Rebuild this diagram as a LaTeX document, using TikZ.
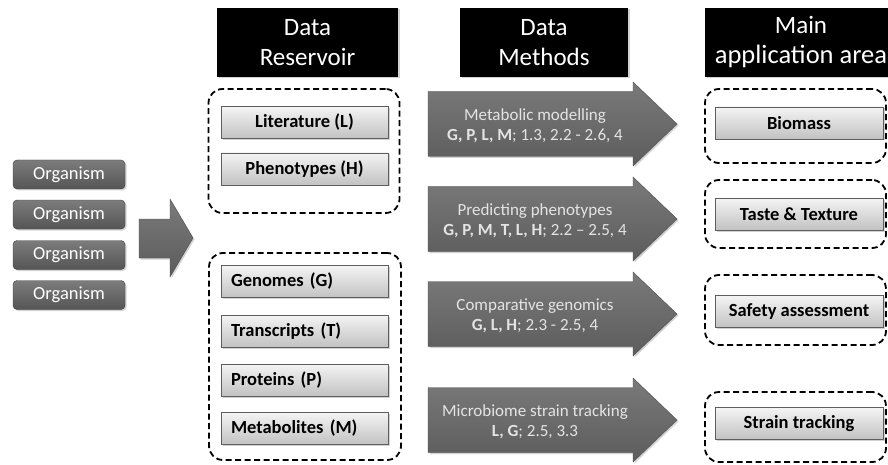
\documentclass[tikz,border=0pt]{standalone}
\usepackage{fontspec}
\setmainfont{Carlito}
\usetikzlibrary{shadows}
\definecolor{orgtop}{HTML}{7C7C7C}
\definecolor{orgbot}{HTML}{555555}
\definecolor{boxtop}{HTML}{F4F4F4}
\definecolor{boxbot}{HTML}{C2C2C2}
\definecolor{boxedge}{HTML}{5E5E5E}
\definecolor{arrtop}{HTML}{7A7A7A}
\definecolor{arrbot}{HTML}{5C5C5C}
\definecolor{arrtext}{HTML}{E4E4E4}
\tikzset{
  shad/.style={drop shadow={opacity=0.35, shadow xshift=1.5pt, shadow yshift=-1.5pt}},
  hdr/.style={fill=black, text=white, align=center, inner sep=0pt,
    font=\fontsize{25}{30}\selectfont, minimum width=#1, minimum height=69pt, shad},
  orgbox/.style={rounded corners=4pt, top color=orgtop, bottom color=orgbot, draw=orgbot!80!black,
    line width=0.4pt, text=white, font=\fontsize{18.5}{20}\selectfont, minimum width=112pt,
    minimum height=29pt, inner sep=0pt, shad},
  databox/.style={top color=boxtop, bottom color=boxbot, draw=boxedge, line width=0.6pt,
    font=\bfseries\fontsize{18.5}{21}\selectfont, minimum width=167pt, minimum height=32pt,
    inner sep=0pt, shad},
  leftbox/.style={databox, text width=147pt, align=left},
  dbox/.style={draw=black, dashed, dash pattern=on 6pt off 3.5pt, line width=1.8pt,
    rounded corners=14pt, inner sep=0pt},
  arrshape/.style={top color=arrtop, bottom color=arrbot, draw=arrbot!85!black, line width=0.4pt, shad},
  arrlabel/.style={text=arrtext, align=center, font=\fontsize{17}{20}\selectfont, inner sep=0pt},
}
\newcommand{\methodarrow}[1]{%
  \path[arrshape] (428,{-#1+32.5}) -- (633,{-#1+32.5}) -- (633,{-#1+42}) -- (677,{-#1})
    -- (633,{-#1-42}) -- (633,{-#1-32.5}) -- (428,{-#1-32.5}) -- cycle;}
\begin{document}
\begin{tikzpicture}[x=1pt,y=1pt]
\useasboundingbox[fill=white] (0,0) rectangle (888,-465);

% headers
\node[hdr=181pt] (hres) at (307.5,-42.5) {Data\\Reservoir};
\node[hdr=168pt] (hmet) at (544,-42.5) {Data\\Methods};
\node[hdr=183pt] (happ) at (796.5,-42.5) {};
\node[text=white, align=center, inner sep=0pt, font=\fontsize{25}{30}\selectfont] (happt) at (801,-42.5)
  {Main\\{\fontsize{26.5}{30}\selectfont application area}};

% organisms
\node[orgbox] (o1) at (69,-174.5) {Organism};
\node[orgbox] (o2) at (69,-214.5) {Organism};
\node[orgbox] (o3) at (69,-255) {Organism};
\node[orgbox] (o4) at (69,-295) {Organism};

% left big arrow
\path[arrshape] (139,-219) -- (170,-219) -- (170,-199) -- (193,-238) -- (170,-277)
  -- (170,-258) -- (139,-258) -- cycle;

% data reservoir
\node[dbox, minimum width=191pt, minimum height=124pt] (dtop) at (304,-151) {};
\node[databox] (lit) at (304.5,-122.5) {Literature (L)};
\node[databox] (phe) at (304.5,-169) {Phenotypes (H)};

\node[dbox, minimum width=192pt, minimum height=207pt] (dbot) at (305,-356.5) {};
\node[leftbox] (gen) at (304.5,-281.5) {Genomes (G)};
\node[leftbox] (tra) at (304.5,-331) {Transcripts (T)};
\node[leftbox] (pro) at (304.5,-380) {Proteins (P)};
\node[leftbox] (met) at (304.5,-428.5) {Metabolites (M)};

% method arrows
\methodarrow{124}
\node[arrlabel] (m1) at (535,-126) {Metabolic modelling\\\textbf{G, P, L, M}; 1.3, 2.2 - 2.6, 4};
\methodarrow{219}
\node[arrlabel] (m2) at (535,-221) {Predicting phenotypes\\\textbf{G, P, M, T, L, H}; 2.2 – 2.5, 4};
\methodarrow{314}
\node[arrlabel] (m3) at (535,-316) {Comparative genomics\\\textbf{G, L, H}; 2.3 - 2.5, 4};
\methodarrow{420}
\node[arrlabel] (m4) at (535,-422) {Microbiome strain tracking\\\textbf{L, G}; 2.5, 3.3};

% application areas
\node[dbox, minimum width=181pt, minimum height=74pt] (a1) at (795.5,-126) {};
\node[databox, minimum width=168pt] (bio) at (799,-123) {Biomass};
\node[dbox, minimum width=181pt, minimum height=68pt] (a2) at (795.5,-214) {};
\node[databox, minimum width=168pt] (tas) at (799,-214) {Taste \& Texture};
\node[dbox, minimum width=181pt, minimum height=70pt] (a3) at (795.5,-310) {};
\node[databox, minimum width=168pt] (saf) at (799,-311.5) {Safety assessment};
\node[dbox, minimum width=181pt, minimum height=70pt] (a4) at (795.5,-427) {};
\node[databox, minimum width=168pt] (str) at (799,-423.5) {Strain tracking};
\end{tikzpicture}
\end{document}
